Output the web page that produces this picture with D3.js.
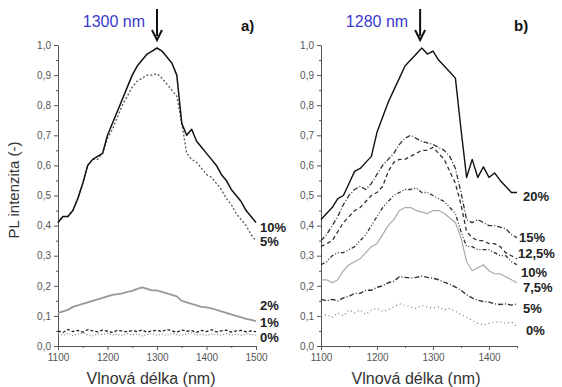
<!DOCTYPE html>
<meta charset="utf-8">
<style>
  body { margin: 0; background: #fff; font-family: "Liberation Sans", Arial, sans-serif; }
  .axis path, .axis line { stroke: #555; }
  .axis text { fill: #555; font-size: 10px; font-family: "Liberation Sans", Arial, sans-serif; }
</style>
<body>
<svg width="562" height="387"></svg>
<script src="https://d3js.org/d3.v7.min.js"></script>
<script>
// wavelength grids (nm)
var wlA = d3.range(1100, 1501, 10);
var wlB = d3.range(1100, 1451, 10);

// panel a) series
var a10 = [0.41,0.43,0.43,0.45,0.49,0.54,0.60,0.62,0.63,0.64,0.70,0.74,0.78,0.82,0.86,0.90,0.93,0.95,0.97,0.98,0.99,
           0.98,0.96,0.94,0.90,0.74,0.70,0.72,0.68,0.66,0.64,0.62,0.60,0.57,0.55,0.52,0.50,0.48,0.45,0.43,0.41];
var a5  = [0.41,0.43,0.43,0.45,0.49,0.54,0.60,0.62,0.62,0.64,0.69,0.72,0.76,0.80,0.83,0.86,0.88,0.89,0.90,0.90,0.905,
           0.89,0.87,0.85,0.83,0.74,0.64,0.62,0.61,0.59,0.57,0.56,0.54,0.52,0.49,0.47,0.44,0.42,0.40,0.37,0.35];
var a2  = [0.11,0.115,0.12,0.13,0.135,0.14,0.145,0.15,0.155,0.16,0.165,0.17,0.172,0.175,0.18,0.183,0.19,0.195,0.19,0.185,0.185,
           0.18,0.175,0.17,0.165,0.15,0.145,0.14,0.135,0.13,0.128,0.125,0.12,0.115,0.11,0.105,0.10,0.095,0.09,0.087,0.083];
var a1  = [0.05,0.045,0.055,0.048,0.052,0.046,0.054,0.05,0.047,0.053,0.049,0.045,0.052,0.05,0.047,0.051,0.048,0.053,0.046,0.05,0.052,
           0.048,0.055,0.05,0.046,0.053,0.049,0.051,0.045,0.052,0.048,0.054,0.047,0.05,0.053,0.046,0.05,0.052,0.047,0.05,0.048];
var a0  = [0.04,0.036,0.042,0.035,0.039,0.043,0.037,0.034,0.04,0.038,0.042,0.036,0.039,0.035,0.041,0.037,0.04,0.034,0.038,0.042,0.036,
           0.039,0.035,0.041,0.038,0.036,0.04,0.043,0.037,0.039,0.035,0.04,0.038,0.036,0.041,0.037,0.039,0.035,0.04,0.038,0.036];

// panel b) series
var b20 = [0.42,0.44,0.46,0.49,0.50,0.54,0.58,0.59,0.61,0.63,0.71,0.76,0.81,0.85,0.89,0.93,0.95,0.97,0.99,0.97,0.98,
           0.95,0.93,0.91,0.89,0.72,0.56,0.62,0.56,0.595,0.56,0.575,0.55,0.53,0.51,0.51];
var b15 = [0.35,0.37,0.40,0.43,0.47,0.50,0.52,0.53,0.52,0.54,0.57,0.60,0.62,0.64,0.67,0.69,0.70,0.69,0.68,0.675,0.67,
           0.66,0.65,0.63,0.59,0.51,0.42,0.41,0.42,0.41,0.40,0.40,0.395,0.39,0.37,0.36];
var b125 = [0.33,0.34,0.35,0.38,0.41,0.43,0.45,0.46,0.48,0.50,0.51,0.53,0.58,0.61,0.62,0.62,0.63,0.64,0.65,0.65,0.66,
            0.64,0.62,0.58,0.54,0.47,0.38,0.36,0.35,0.35,0.34,0.34,0.33,0.31,0.30,0.29];
var b10 = [0.27,0.28,0.30,0.31,0.31,0.32,0.33,0.35,0.37,0.40,0.43,0.46,0.48,0.50,0.51,0.52,0.52,0.525,0.51,0.51,0.50,
           0.49,0.48,0.46,0.44,0.38,0.33,0.33,0.32,0.32,0.32,0.31,0.30,0.30,0.28,0.27];
var b75 = [0.22,0.22,0.21,0.22,0.25,0.27,0.28,0.29,0.31,0.33,0.34,0.37,0.40,0.42,0.45,0.46,0.46,0.45,0.445,0.44,0.45,
           0.45,0.44,0.425,0.41,0.36,0.28,0.25,0.26,0.27,0.25,0.24,0.24,0.23,0.22,0.21];
var b5  = [0.155,0.15,0.155,0.15,0.16,0.165,0.175,0.175,0.185,0.185,0.195,0.2,0.21,0.215,0.23,0.228,0.226,0.228,0.232,0.228,0.225,
           0.22,0.212,0.205,0.196,0.185,0.17,0.16,0.152,0.148,0.146,0.14,0.138,0.14,0.136,0.14];
var b0  = [0.10,0.105,0.095,0.11,0.10,0.12,0.11,0.12,0.105,0.12,0.125,0.115,0.12,0.13,0.14,0.135,0.13,0.125,0.135,0.13,0.125,
           0.13,0.12,0.125,0.115,0.105,0.095,0.085,0.075,0.07,0.075,0.08,0.08,0.075,0.08,0.065];

var yTicks = [0.0,0.1,0.2,0.3,0.4,0.5,0.6,0.7,0.8,0.9,1.0];
var xTicksA = [1100,1200,1300,1400,1500];
var xTicksB = [1100,1200,1300,1400];

var svg = d3.select('svg');
var y = d3.scaleLinear().domain([0, 1]).range([346, 45]);
var xa = d3.scaleLinear().domain([1100, 1500]).range([58, 256]);
var xb = d3.scaleLinear().domain([1100, 1450]).range([321, 517]);
var fmt = function (d) { return d3.format('.1f')(d).replace('.', ','); };

function drawAxes(x, xt, minorX) {
  var gy = svg.append('g').attr('class', 'axis').attr('transform', 'translate(' + x.range()[0] + ',0)');
  gy.call(d3.axisLeft(y).tickValues(yTicks).tickFormat(fmt).tickSize(4).tickSizeOuter(0).tickPadding(3));
  svg.append('g').attr('class', 'axis').attr('transform', 'translate(' + x.range()[0] + ',0)')
     .call(d3.axisLeft(y).tickValues(yTicks.slice(0, 10).map(function (d) { return d + 0.05; })).tickFormat('').tickSize(2).tickSizeOuter(0))
     .select('.domain').remove();
  svg.append('g').attr('class', 'axis').attr('transform', 'translate(0,346)')
     .call(d3.axisBottom(x).tickValues(xt).tickFormat(d3.format('d')).tickSize(4).tickSizeOuter(0).tickPadding(4));
  svg.append('g').attr('class', 'axis').attr('transform', 'translate(0,346)')
     .call(d3.axisBottom(x).tickValues(minorX).tickFormat('').tickSize(2).tickSizeOuter(0))
     .select('.domain').remove();
}
drawAxes(xa, xTicksA, [1150,1250,1350,1450]);
drawAxes(xb, xTicksB, [1150,1250,1350,1450]);

function drawLine(x, wl, vals, color, width, dash) {
  var line = d3.line().x(function (d, i) { return x(wl[i]); }).y(function (d) { return y(d); });
  svg.append('path').datum(vals).attr('d', line)
     .attr('fill', 'none').attr('stroke', color).attr('stroke-width', width)
     .attr('stroke-dasharray', dash).attr('stroke-linejoin', 'round');
}

drawLine(xa, wlA, a2, '#999', 1.8, null);
drawLine(xa, wlA, a0, '#888', 1.3, '1,2');
drawLine(xa, wlA, a1, '#222', 1.3, '3,2');
drawLine(xa, wlA, a5, '#555', 1.3, '2,2');
drawLine(xa, wlA, a10, '#111', 1.5, null);

drawLine(xb, wlB, b0, '#777', 1.2, '1,3');
drawLine(xb, wlB, b5, '#333', 1.4, '5,2,1,2');
drawLine(xb, wlB, b75, '#aaa', 1.2, null);
drawLine(xb, wlB, b10, '#333', 1.3, '4,2,1,2,1,2');
drawLine(xb, wlB, b125, '#333', 1.3, '4,3');
drawLine(xb, wlB, b15, '#333', 1.3, '5,2,1,2');
drawLine(xb, wlB, b20, '#111', 1.4, null);

// series labels
var labA = [['10%', 0.395], ['5%', 0.35], ['2%', 0.136], ['1%', 0.08], ['0%', 0.03]];
var labB = [['20%', 0.50, 523], ['15%', 0.363, 519], ['12,5%', 0.31, 518], ['10%', 0.245, 521], ['7,5%', 0.195, 523], ['5%', 0.126, 523], ['0%', 0.053, 526]];
labA.forEach(function (l) {
  svg.append('text').attr('x', 260).attr('y', y(l[1]) + 5).text(l[0])
     .attr('font-size', 13).attr('font-weight', 'bold').attr('fill', '#222');
});
labB.forEach(function (l) {
  svg.append('text').attr('x', l[2]).attr('y', y(l[1]) + 5).text(l[0])
     .attr('font-size', 13).attr('font-weight', 'bold').attr('fill', '#222');
});

// peak annotations
function peak(x, nm, label, tag, tagX) {
  svg.append('text').attr('x', x(nm) - 12).attr('y', 27).attr('text-anchor', 'end')
     .attr('font-size', 16).attr('fill', '#3a3acc').text(label);
  svg.append('line').attr('x1', x(nm)).attr('x2', x(nm)).attr('y1', 9).attr('y2', 36)
     .attr('stroke', '#111').attr('stroke-width', 2);
  svg.append('path').attr('d', 'M' + (x(nm) - 5) + ',30L' + x(nm) + ',40L' + (x(nm) + 5) + ',30')
     .attr('fill', 'none').attr('stroke', '#111').attr('stroke-width', 2);
  svg.append('text').attr('x', tagX).attr('y', 31).attr('font-size', 15).attr('font-weight', 'bold')
     .attr('fill', '#111').text(tag);
}
peak(xa, 1300, '1300 nm', 'a)', 241);
peak(xb, 1277, '1280 nm', 'b)', 514);

// axis titles
svg.append('text').attr('x', 151).attr('y', 384).attr('text-anchor', 'middle')
   .attr('font-size', 16).attr('fill', '#333').text('Vlnová délka (nm)');
svg.append('text').attr('x', 416).attr('y', 384).attr('text-anchor', 'middle')
   .attr('font-size', 16).attr('fill', '#333').text('Vlnová délka (nm)');
svg.append('text').attr('transform', 'translate(19,190)rotate(-90)').attr('text-anchor', 'middle')
   .attr('font-size', 15).attr('fill', '#333').text('PL intenzita (-)');
</script>
</body>
